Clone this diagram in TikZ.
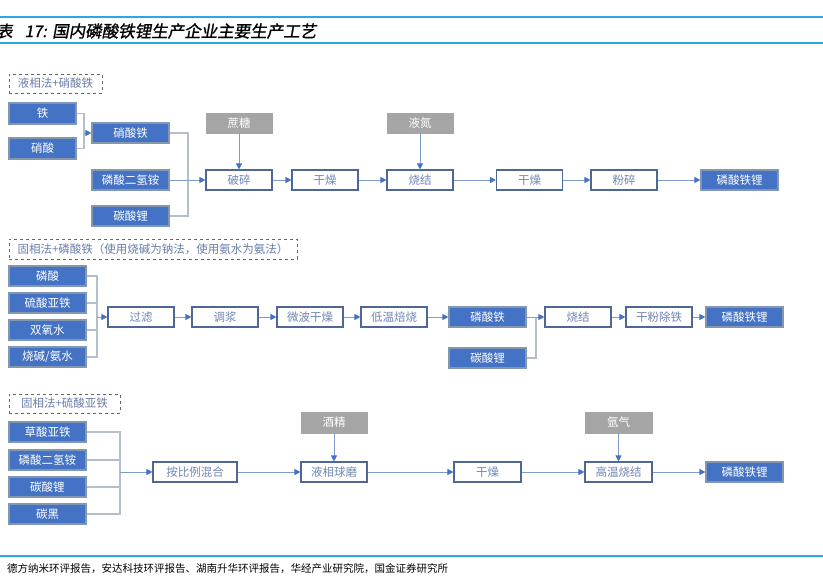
\documentclass[tikz,border=0pt]{standalone}
\usepackage{fontspec}
\newfontfamily\cjk{Noto Sans CJK SC}
\newfontfamily\cjktitle[FakeSlant=0.18,FakeBold=1.2]{Noto Sans CJK SC}
\usetikzlibrary{arrows.meta}
\definecolor{bfill}{HTML}{4472C4}
\definecolor{bedge}{HTML}{8497B0}
\definecolor{wedge}{HTML}{4F6796}
\definecolor{wtext}{HTML}{6F86B5}
\definecolor{gfill}{HTML}{A5A5A5}
\definecolor{busc}{HTML}{B4BECC}
\definecolor{arrc}{HTML}{7F9BCB}
\definecolor{tipc}{HTML}{4472C4}
\definecolor{rule}{HTML}{2AA7E6}
\definecolor{lblc}{HTML}{6A7CA8}
\tikzset{
  box/.style={minimum width=66pt, minimum height=20pt, inner sep=0pt, font=\cjk\fontsize{11.5}{13}\selectfont},
  blk/.style={box, fill=bfill, draw=bedge, line width=1.2pt, text=white},
  wbox/.style={box, fill=white, draw=wedge, line width=1.1pt, text=wtext},
  gbox/.style={box, fill=gfill, draw=gfill, text=white},
  lbl/.style={draw=gray!80!black, dashed, line width=0.9pt, inner sep=0pt, minimum height=19pt, text=lblc, font=\cjk\fontsize{11.5}{13}\selectfont},
  bus/.style={draw=busc, line width=1.3pt},
  arr/.style={draw=arrc, line width=0.9pt, -{Triangle[length=6pt,width=6pt,color=tipc]}},
}
\begin{document}
\begin{tikzpicture}[x=1pt,y=-1pt]
\useasboundingbox (0,0) rectangle (823,576);
% header / footer rules
\draw[rule, line width=1.4pt] (0,17) -- (823,17);
\draw[rule, line width=1.4pt] (0,43) -- (823,43);
\draw[rule, line width=1.4pt] (0,556) -- (823,556);
\node[anchor=east, inner sep=0pt, font=\cjktitle\fontsize{16}{18}\selectfont] (t0) at (47,31) {表\hspace{12pt}17:};
\node[anchor=west, inner sep=0pt, font=\cjktitle\fontsize{16.5}{18}\selectfont] (t1) at (52,31) {国内磷酸铁锂生产企业主要生产工艺};
\node[anchor=west, inner sep=0pt, font=\cjk\fontsize{10.5}{12}\selectfont] (src) at (7,569) {德方纳米环评报告，安达科技环评报告、湖南升华环评报告，华经产业研究院，国金证券研究所};

% ---------- section 1 ----------
\node[lbl, minimum width=93pt] (L1) at (55.5,83.5) {液相法+硝酸铁};
\node[blk, minimum width=67pt, minimum height=21pt] (tie) at (42.5,113.5) {铁};
\node[blk, minimum width=67pt, minimum height=21pt] (xs) at (42.5,148.5) {硝酸};
\node[blk, minimum width=77pt] (xst) at (130.5,133) {硝酸铁};
\node[blk, minimum width=77pt] (lsa) at (130.5,180) {磷酸二氢铵};
\node[blk, minimum width=77pt] (tsl) at (130.5,216) {碳酸锂};
\node[wbox] (ps) at (239,180) {破碎};
\node[gbox] (zt) at (239,123) {蔗糖};
\node[wbox] (gz) at (325,180) {干燥};
\node[wbox] (sj) at (420,180) {烧结};
\node[gbox] (ld) at (420,123) {液氮};
\node[wbox] (gzb) at (529.5,180) {干燥};
\node[wbox] (fs) at (624,180) {粉碎};
\node[blk, minimum width=77pt] (lfpa) at (739.5,180) {磷酸铁锂};

\coordinate (m1) at (84,133);
\draw[bus] (tie.east) -| (m1) |- (xs.east);
\draw[arr] (m1) -- (xst.west);
\coordinate (m2) at (188,180);
\draw[bus] (xst.east) -| (m2) |- (tsl.east);
\draw[arr] (lsa.east) -- (ps.west);
\draw[arr] (zt) -- (ps);
\draw[arr] (ps) -- (gz);
\draw[arr] (gz) -- (sj);
\draw[arr] (ld) -- (sj);
\draw[arr] (sj) -- (gzb);
\draw[arr] (gzb) -- (fs);
\draw[arr] (fs) -- (lfpa);

% ---------- section 2 ----------
\node[lbl, minimum width=288pt, minimum height=20pt] (L2) at (153,249) {固相法+磷酸铁（使用烧碱为钠法，使用氨水为氨法）};
\node[blk, minimum width=77pt] (a1) at (47.5,276) {磷酸};
\node[blk, minimum width=77pt] (a2) at (47.5,303) {硫酸亚铁};
\node[blk, minimum width=77pt] (a3) at (47.5,330) {双氧水};
\node[blk, minimum width=77pt] (a4) at (47.5,357) {烧碱/氨水};
\node[wbox] (gl) at (141,317) {过滤};
\node[wbox] (tj) at (225,317) {调浆};
\node[wbox] (wb) at (310,317) {微波干燥};
\node[wbox] (dw) at (394,317) {低温焙烧};
\node[blk, minimum width=77pt] (lst) at (487.5,317) {磷酸铁};
\node[blk, minimum width=77pt] (tslb) at (487.5,358) {碳酸锂};
\node[wbox] (sjb) at (578,317) {烧结};
\node[wbox] (gf) at (659,317) {干粉除铁};
\node[blk, minimum width=77pt] (lfpb) at (744.5,317) {磷酸铁锂};

\coordinate (m3) at (97,317);
\draw[bus] (a1.east) -| (m3);
\draw[bus] (a4.east) -| (m3);
\draw[bus] (a2.east) -- (a2.east -| m3);
\draw[bus] (a3.east) -- (a3.east -| m3);
\draw[arr] (m3) -- (gl.west);
\draw[arr] (gl) -- (tj);
\draw[arr] (tj) -- (wb);
\draw[arr] (wb) -- (dw);
\draw[arr] (dw) -- (lst);
\coordinate (m4) at (536,317);
\draw[bus] (tslb.east) -| (m4);
\draw[arr] (lst.east) -- (sjb.west);
\draw[arr] (sjb) -- (gf);
\draw[arr] (gf) -- (lfpb);

% ---------- section 3 ----------
\node[lbl, minimum width=111pt] (L3) at (64.5,403.5) {固相法+硫酸亚铁};
\node[blk, minimum width=77pt] (b1) at (47.5,432) {草酸亚铁};
\node[blk, minimum width=77pt] (b2) at (47.5,460) {磷酸二氢铵};
\node[blk, minimum width=77pt] (b3) at (47.5,487) {碳酸锂};
\node[blk, minimum width=77pt] (b4) at (47.5,514) {碳黑};
\node[wbox, minimum width=84pt] (hh) at (195,472) {按比例混合};
\node[wbox] (qm) at (334,472) {液相球磨};
\node[gbox, minimum height=21pt] (jj) at (334,422.5) {酒精};
\node[wbox, minimum width=67pt] (gzc) at (487.5,472) {干燥};
\node[wbox, minimum width=67pt] (gw) at (618.5,472) {高温烧结};
\node[gbox, minimum width=67pt, minimum height=21pt] (yq) at (618.5,422.5) {氩气};
\node[blk, minimum width=77pt] (lfpc) at (744.5,472) {磷酸铁锂};

\coordinate (m5) at (120,472);
\draw[bus] (b1.east) -| (m5);
\draw[bus] (b4.east) -| (m5);
\draw[bus] (b2.east) -- (b2.east -| m5);
\draw[bus] (b3.east) -- (b3.east -| m5);
\draw[arr] (m5) -- (hh.west);
\draw[arr] (hh) -- (qm);
\draw[arr] (jj) -- (qm);
\draw[arr] (qm) -- (gzc);
\draw[arr] (gzc) -- (gw);
\draw[arr] (yq) -- (gw);
\draw[arr] (gw) -- (lfpc);
\end{tikzpicture}
\end{document}
